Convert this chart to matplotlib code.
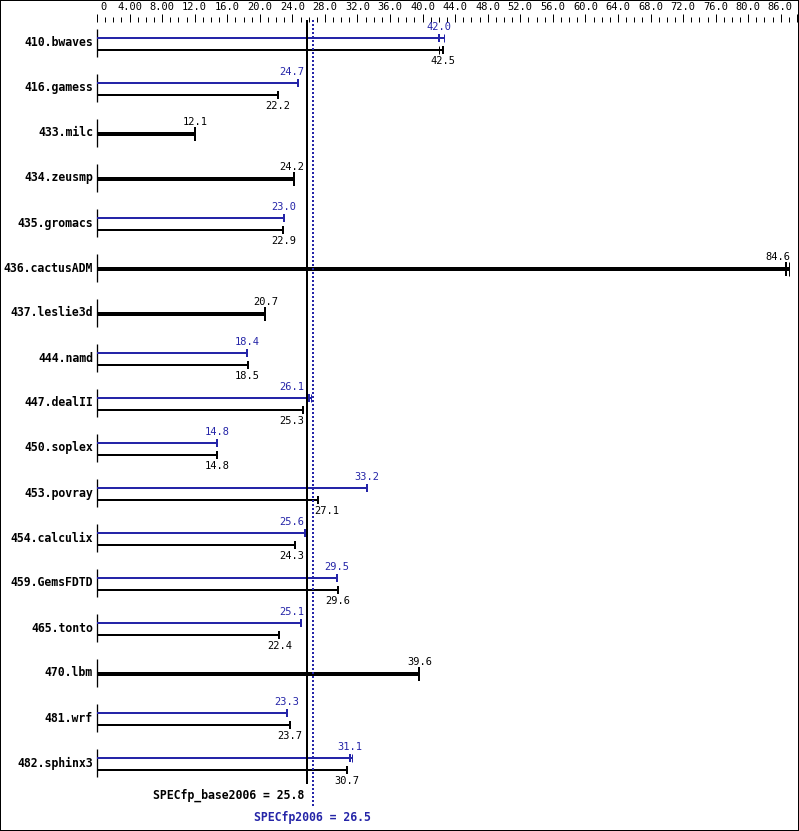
import matplotlib
matplotlib.use('Agg')
import matplotlib.pyplot as plt
from matplotlib.patches import Rectangle

# --- data
benchmarks = ['410.bwaves', '416.gamess', '433.milc', '434.zeusmp', '435.gromacs',
              '436.cactusADM', '437.leslie3d', '444.namd', '447.dealII', '450.soplex',
              '453.povray', '454.calculix', '459.GemsFDTD', '465.tonto', '470.lbm',
              '481.wrf', '482.sphinx3']
base = [42.5, 22.2, 12.1, 24.2, 22.9, 84.6, 20.7, 18.5, 25.3, 14.8,
        27.1, 24.3, 29.6, 22.4, 39.6, 23.7, 30.7]
peak = [42.0, 24.7, None, None, 23.0, None, None, 18.4, 26.1, 14.8,
        33.2, 25.6, 29.5, 25.1, None, 23.3, 31.1]
# second run tick visible next to some bar ends
base_alt = [42.0, None, None, None, None, 85.0, None, None, None, None,
            None, None, None, None, None, None, None]
peak_alt = [42.6, None, None, None, None, None, None, None, 26.3, None,
            None, None, None, None, None, None, 31.3]
base_mean = 25.8
peak_mean = 26.5
base_mean_label = 'SPECfp_base2006 = 25.8'
peak_mean_label = 'SPECfp2006 = 26.5'
x_max = 86.0

BLUE = '#2525a8'
FONT = 'DejaVu Sans Mono'
W, H = 799, 831
X0, PX_PER_UNIT = 97, 8.14
ROW0, ROW_STEP = 43, 45
PX = 0.72  # points per pixel at dpi 100
SMALL = 7.5


def px(v):
    return X0 + v * PX_PER_UNIT


fig = plt.figure(figsize=(W / 100, H / 100), dpi=100)
ax = fig.add_axes([0, 0, 1, 1])
ax.set_xlim(-X0 / PX_PER_UNIT, (W - X0) / PX_PER_UNIT)
ax.set_ylim(H, 0)
ax.axis('off')

# frame
ax.add_patch(Rectangle((0, 0), 1, 1, transform=ax.transAxes, fill=False,
                       edgecolor='black', linewidth=2 * PX, clip_on=False))

# top scale
for t in range(0, int(x_max) + 1):
    major = t % 4 == 0 or t == x_max
    ax.plot([t, t], [14 if major else 17, 22], color='black', lw=1 * PX,
            solid_capstyle='butt')
for t in range(0, int(x_max), 4):
    if t == 0:
        ax.text(t + 3 / PX_PER_UNIT, 7, '0', ha='left', va='center',
                family=FONT, fontsize=SMALL)
    elif t <= 8:
        ax.text(t, 7, f'{t:.2f}', ha='center', va='center', family=FONT, fontsize=SMALL)
    elif t < 84:
        ax.text(t, 7, f'{t:.1f}', ha='center', va='center', family=FONT, fontsize=SMALL)
ax.text(x_max - 0.6, 7, f'{x_max:.1f}', ha='right', va='center', family=FONT, fontsize=SMALL)


def label_x(v):
    # keep value labels clear of the mean lines and the right edge
    c = px(v)
    half = 12
    lo, hi = px(base_mean) - 3, px(peak_mean) + 2
    if c + half > lo and c - half < hi:
        if c < (lo + hi) / 2 + 4:
            c = lo - half
        else:
            c = hi + half
    if c + half > 790:
        c = 790 - half
    return (c - X0) / PX_PER_UNIT


def bar(v, y, color, lw, tick_h, alt=None):
    end = v if alt is None else max(v, alt)
    ax.plot([0, end], [y, y], color=color, lw=lw, solid_capstyle='butt')
    ax.plot([v, v], [y - tick_h / 2, y + tick_h / 2], color=color, lw=2 * PX,
            solid_capstyle='butt')
    if alt is not None:
        ax.plot([alt, alt], [y - tick_h / 2, y + tick_h / 2], color=color,
                lw=1 * PX, solid_capstyle='butt')


for i, name in enumerate(benchmarks):
    c = ROW0 + ROW_STEP * i
    ax.text(-4 / PX_PER_UNIT, c, name, ha='right', va='center', family=FONT,
            fontsize=8.3, fontweight='bold')
    ax.plot([0, 0], [c - 14, c + 14], color='black', lw=1.3 * PX, solid_capstyle='butt')
    if peak[i] is None:
        y = c + 1
        bar(base[i], y, 'black', 4 * PX, 14, base_alt[i])
        ax.text(label_x(base[i]), y - 12, f'{base[i]:.1f}', ha='center', va='center',
                family=FONT, fontsize=SMALL)
    else:
        yp, yb = c - 5.5, c + 6.5
        bar(peak[i], yp, BLUE, 2 * PX, 8, peak_alt[i])
        bar(base[i], yb, 'black', 2 * PX, 8, base_alt[i])
        ax.text(label_x(peak[i]), c - 16, f'{peak[i]:.1f}', ha='center', va='center',
                family=FONT, fontsize=SMALL, color=BLUE)
        ax.text(label_x(base[i]), c + 18, f'{base[i]:.1f}', ha='center', va='center',
                family=FONT, fontsize=SMALL)

# mean lines
ax.plot([base_mean, base_mean], [20, 784], color='black', lw=2 * PX, solid_capstyle='butt')
ax.plot([peak_mean, peak_mean], [20, 808], color=BLUE, lw=2 * PX,
        linestyle=(0, (1, 1)), dash_capstyle='butt')
ax.text(base_mean - 3 / PX_PER_UNIT, 795, base_mean_label, ha='right', va='center',
        family=FONT, fontsize=8.3, fontweight='bold')
ax.text(peak_mean, 817, peak_mean_label, ha='center', va='center',
        family=FONT, fontsize=8.3, fontweight='bold', color=BLUE)

fig.savefig('out.png', dpi=100)
